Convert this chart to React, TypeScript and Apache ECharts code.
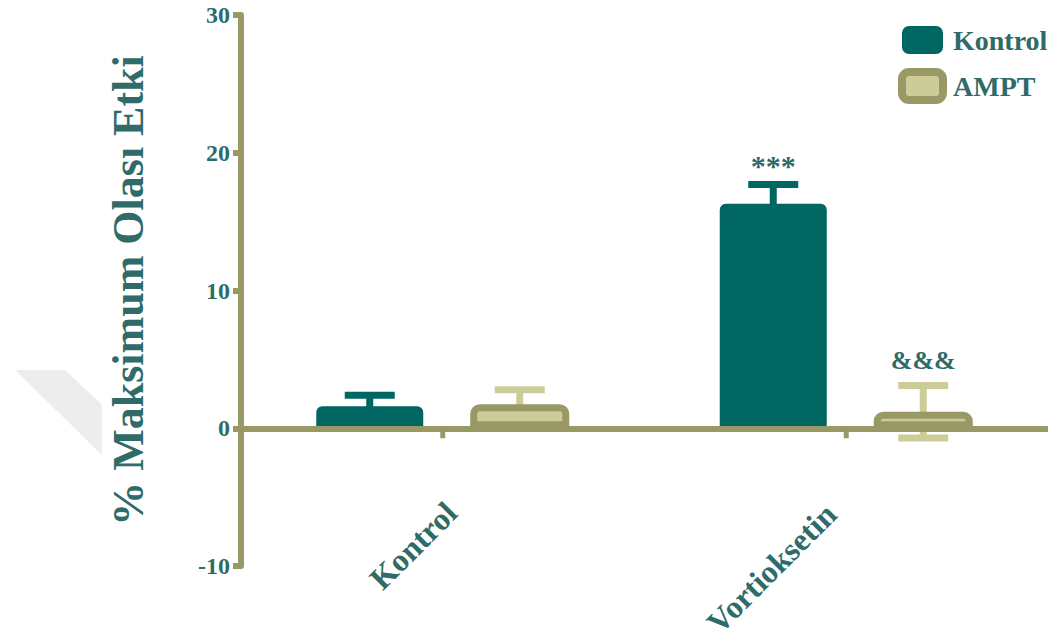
import React, { useEffect, useRef } from 'react';
import * as echarts from 'echarts';

const categories = ['Kontrol', 'Vortioksetin'];
const seriesNames = ['Kontrol', 'AMPT'];
const kontrolMeans = [1.6, 16.3];
const kontrolSem = [0.8, 1.4];
const amptMeans = [1.75, 1.2];
const amptSem = [1.05, 1.9];
const kontrolMarks = ['', '***'];
const amptMarks = ['', '&&&'];
const yMin = -10;
const yMax = 30;
const yStep = 10;
const yAxisTitle = '% Maksimum Olası Etki';

const TEAL = '#006661';
const TEXT = '#2e6b69';
const OLIVE = '#999966';
const LIGHT = '#cccc99';
const FONT = '"Liberation Serif", "Times New Roman", serif';

const KW = 107; // Kontrol bar width
const AW = 99; // AMPT bar width
const GAP = 47;
const TOTAL = KW + GAP + AW;
const kOffset = -TOTAL / 2 + KW / 2;
const aOffset = -TOTAL / 2 + KW + GAP + AW / 2;
const labelPadding = [[0, -12, 0, 0], [0, 6, 0, 0]];
const labelVAlign = ['middle', 'bottom'];

function errorSeries(name: string, means: number[], sems: number[], marks: string[], offset: number, color: string, markSize: number, markGap: number) {
  return {
    type: 'custom',
    name: name + ' SEM',
    z: 1,
    silent: true,
    data: means.map((m, i) => [i, m, sems[i]]),
    renderItem: (params: any, api: any) => {
      const cat = api.value(0);
      const mean = api.value(1);
      const sem = api.value(2);
      const c = api.coord([cat, mean]);
      const top = api.coord([cat, mean + sem])[1];
      const bot = api.coord([cat, mean - sem])[1];
      const x = c[0] + offset;
      const half = 25;
      const st = { stroke: color, lineWidth: 7 };
      const children: any[] = [
        { type: 'line', shape: { x1: x, y1: top, x2: x, y2: bot }, style: st },
        { type: 'line', shape: { x1: x - half, y1: top, x2: x + half, y2: top }, style: st },
        { type: 'line', shape: { x1: x - half, y1: bot, x2: x + half, y2: bot }, style: st },
      ];
      const mk = marks[params.dataIndex];
      if (mk) {
        children.push({
          type: 'text',
          x,
          y: top - markGap,
          style: {
            text: mk,
            fill: TEXT,
            font: `bold ${markSize}px ${FONT}`,
            align: 'center',
            verticalAlign: 'middle',
          },
        });
      }
      return { type: 'group', children };
    },
  };
}

export default function App() {
  const ref = useRef<HTMLDivElement>(null);
  useEffect(() => {
    if (!ref.current) return;
    const chart = echarts.init(ref.current, null, { renderer: 'svg' });
    chart.setOption({
      animation: false,
      backgroundColor: '#ffffff',
      grid: { left: 241, right: 5, top: 15, bottom: 78, containLabel: false, outerBoundsMode: 'none' },
      graphic: [
        {
          type: 'polygon',
          z: -10,
          shape: { points: [[15, 370], [65, 370], [102, 405], [102, 455]] },
          style: { fill: '#ededed' },
        },
      ],
      legend: {
        orient: 'vertical',
        left: 898,
        top: 26,
        padding: 0,
        itemWidth: 41,
        itemHeight: 28,
        itemGap: 14,
        icon: 'roundRect',
        data: [
          { name: seriesNames[0] },
          { name: seriesNames[1], itemStyle: { borderWidth: 8, borderColor: OLIVE, color: LIGHT } },
        ],
        textStyle: { color: TEXT, fontFamily: FONT, fontWeight: 'bold', fontSize: 28, padding: [0, 0, 0, 5] },
      },
      xAxis: {
        type: 'category',
        data: categories.map((c, i) => ({
          value: c,
          textStyle: { padding: labelPadding[i], verticalAlign: labelVAlign[i] },
        })),
        axisLine: { show: false, onZero: false },
        axisTick: { show: false },
        axisLabel: {
          rotate: 45,
          margin: -50,
          color: TEXT,
          fontFamily: FONT,
          fontWeight: 'bold',
          fontSize: 32,
        },
        splitLine: { show: false },
      },
      yAxis: {
        type: 'value',
        min: yMin,
        max: yMax,
        interval: yStep,
        z: 5,
        name: yAxisTitle,
        nameLocation: 'middle',
        nameGap: 91,
        nameTextStyle: { color: TEXT, fontFamily: FONT, fontWeight: 'bold', fontSize: 44 },
        axisLine: { show: true, lineStyle: { color: OLIVE, width: 6 } },
        axisTick: { show: true, length: 8, lineStyle: { color: OLIVE, width: 6 } },
        axisLabel: { margin: 11, color: TEXT, fontFamily: FONT, fontWeight: 'bold', fontSize: 24 },
        splitLine: { show: false },
      },
      series: [
        {
          type: 'bar',
          name: seriesNames[0],
          data: kontrolMeans,
          barWidth: KW,
          barGap: (GAP / KW * 100).toFixed(2) + '%',
          z: 2,
          itemStyle: { color: TEAL, borderRadius: [6, 6, 0, 0] },
        },
        {
          type: 'bar',
          name: seriesNames[1],
          data: amptMeans,
          barWidth: AW,
          barGap: (GAP / KW * 100).toFixed(2) + '%',
          z: 2,
          itemStyle: { color: LIGHT, borderColor: OLIVE, borderWidth: 7, borderRadius: [6, 6, 0, 0] },
        },
        errorSeries(seriesNames[0], kontrolMeans, kontrolSem, kontrolMarks, kOffset, TEAL, 30, 19),
        errorSeries(seriesNames[1], amptMeans, amptSem, amptMarks, aOffset, LIGHT, 26, 25),
        {
          type: 'custom',
          name: 'zero axis',
          z: 5,
          silent: true,
          data: categories.map((_, i) => [i, 0]),
          renderItem: (params: any, api: any) => {
            const p = api.coord([api.value(0), 0]);
            return {
              type: 'line',
              shape: { x1: p[0], y1: p[1], x2: p[0], y2: p[1] + 10 },
              style: { stroke: OLIVE, lineWidth: 5 },
            };
          },
          markLine: {
            silent: true,
            symbol: 'none',
            label: { show: false },
            lineStyle: { color: OLIVE, width: 6, type: 'solid' },
            data: [{ yAxis: 0 }],
          },
        },
      ],
    });
    return () => chart.dispose();
  }, []);
  return <div ref={ref} style={{ position: 'fixed', left: 0, top: 0, width: 1053, height: 644 }} />;
}
